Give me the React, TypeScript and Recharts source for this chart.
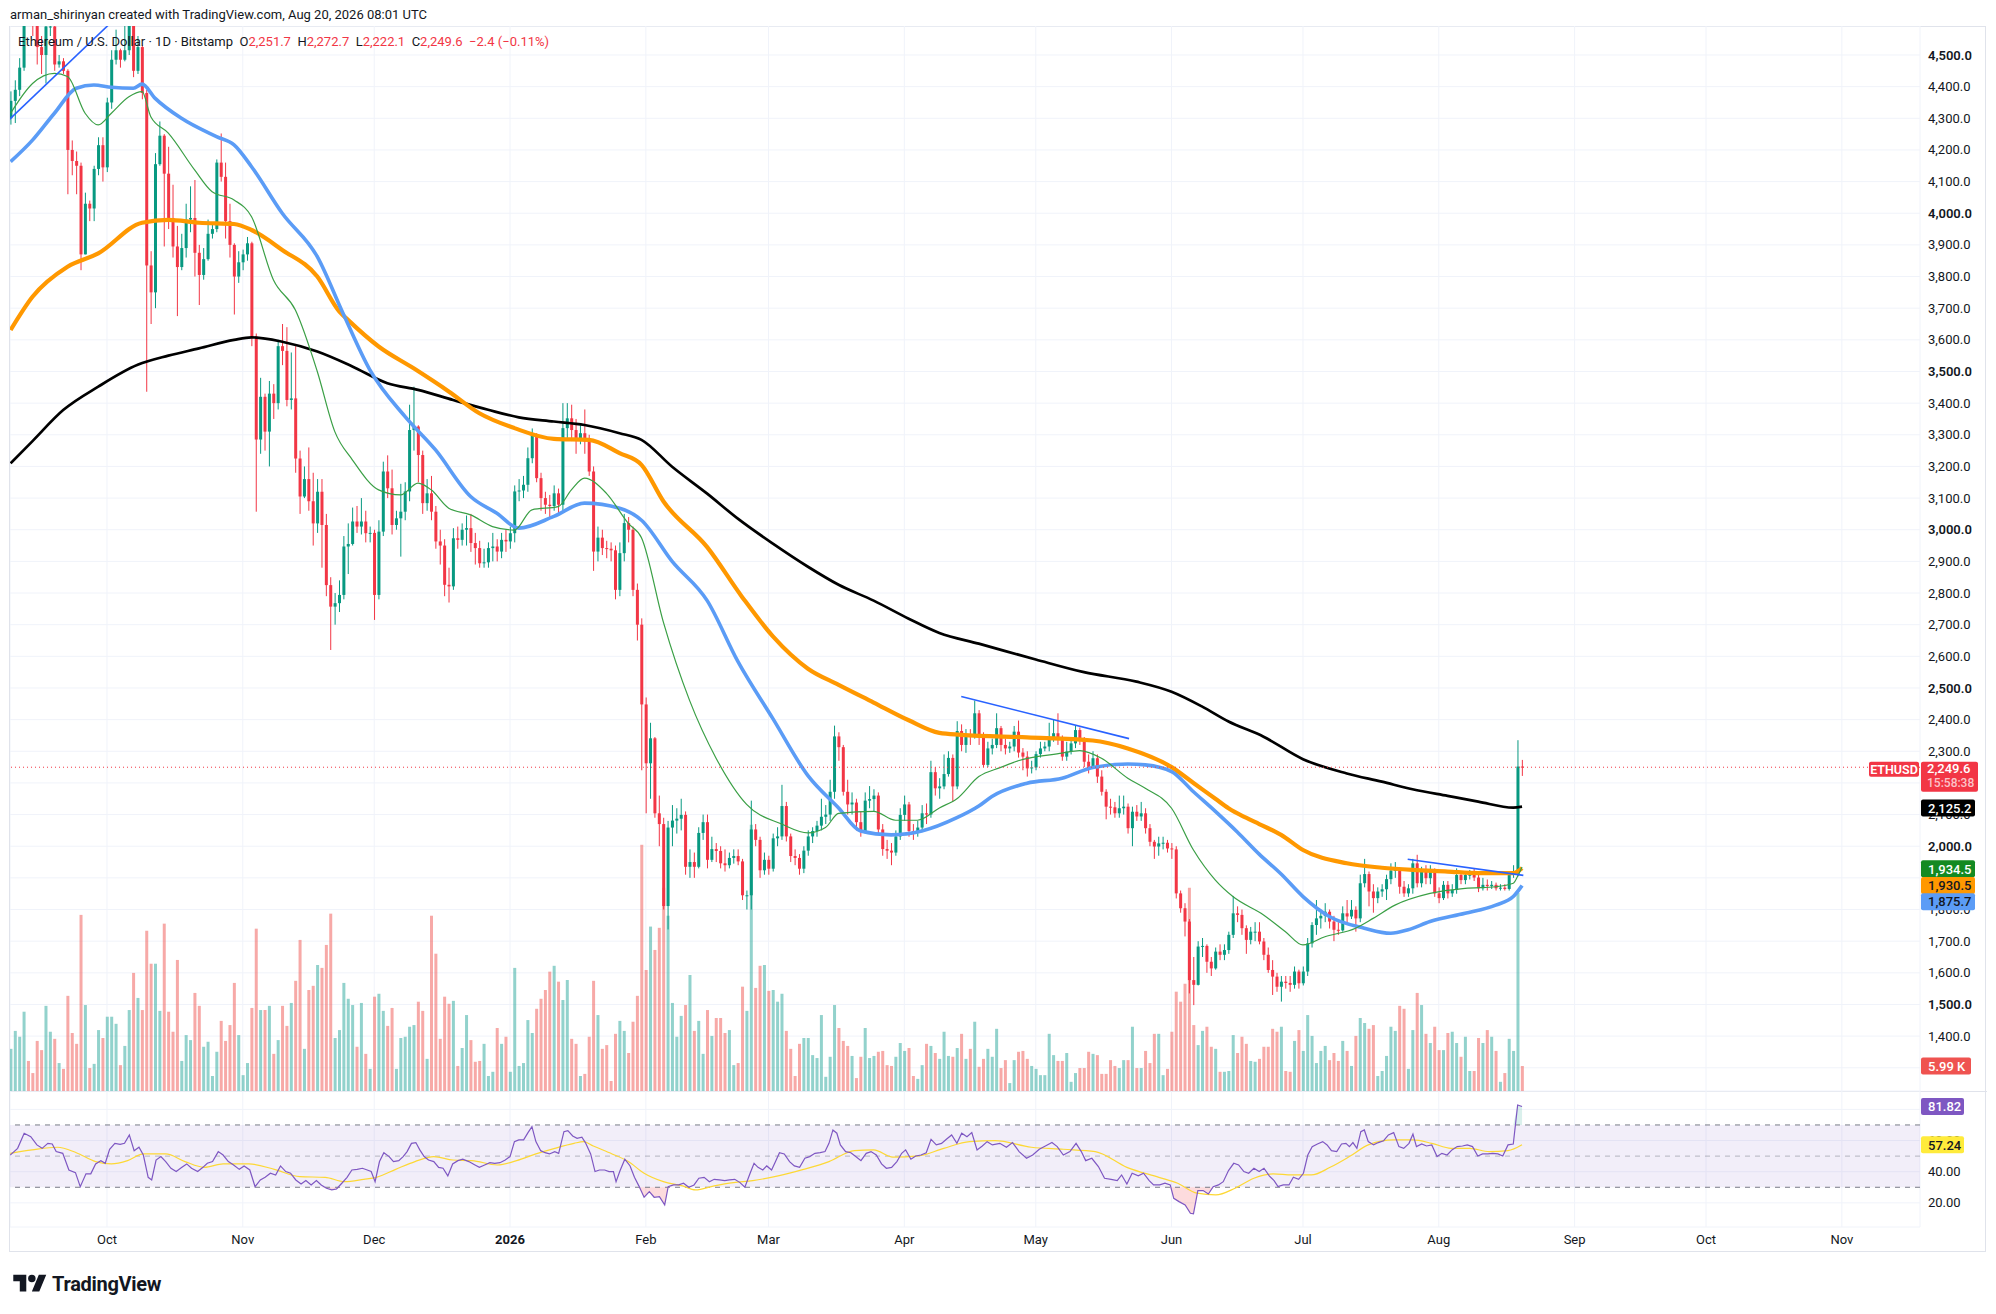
import React from "react";
import {
  ComposedChart, Bar, Line, Area, XAxis, YAxis, CartesianGrid,
  ReferenceLine, ReferenceArea, Cell,
} from "recharts";

const FONT = "Roboto, 'Noto Sans', Arial, sans-serif";
const INK = "#131722";
const GRID = "#f0f3fa";
const UP = "#089981";
const DOWN = "#f23645";
const VOL_UP = "rgba(38,166,154,0.5)";
const VOL_DOWN = "rgba(239,83,80,0.5)";

// day 0 = Sep 9, 2025 ... day 345 = Aug 20, 2026
const firstOpen = 4300;
const closes = [
  4355, 4390, 4460, 4715, 4670, 4605, 4525, 4500, 4590, 4590,
  4470, 4480, 4450, 4200, 4165, 4150, 3870, 4030, 4015, 4140,
  4215, 4145, 4350, 4485, 4515, 4485, 4515, 4690, 4450, 4525,
  4380, 3835, 3750, 4155, 4245, 4125, 3985, 3895, 3830, 3890,
  3980, 3985, 3875, 3805, 3855, 3935, 3950, 4160, 4115, 3975,
  3900, 3800, 3845, 3870, 3905, 3610, 3285, 3420, 3310, 3430,
  3400, 3580, 3565, 3410, 3415, 3225, 3105, 3160, 3090, 3020,
  3120, 3015, 2825, 2757, 2768, 2794, 2947, 2955, 3026, 3010,
  3026, 2989, 2990, 2794, 2994, 3184, 3131, 3015, 3036, 3057,
  3121, 3315, 3326, 3236, 3084, 3115, 3057, 2963, 2950, 2826,
  2821, 2973, 2968, 3000, 3005, 2958, 2942, 2894, 2897, 2942,
  2947, 2931, 2968, 2963, 2989, 3121, 3124, 3142, 3226, 3300,
  3163, 3100, 3079, 3075, 3115, 3079, 3321, 3352, 3315, 3284,
  3305, 3279, 3184, 2931, 2975, 2942, 2940, 2935, 2810, 2926,
  3021, 3000, 2810, 2700, 2448, 2262, 2341, 2104, 2070, 1811,
  2059, 2081, 2087, 2099, 1935, 1950, 1935, 2042, 2076, 1957,
  1991, 1985, 1946, 1940, 1963, 1969, 1952, 1845, 1845, 2053,
  2020, 1924, 1957, 1929, 2025, 2031, 2127, 2031, 1969, 1963,
  1929, 1986, 2031, 2048, 2065, 2093, 2100, 2172, 2347, 2313,
  2172, 2132, 2138, 2076, 2048, 2144, 2149, 2160, 2053, 1991,
  1986, 1980, 2031, 2099, 2132, 2048, 2042, 2059, 2104, 2100,
  2234, 2183, 2189, 2228, 2279, 2189, 2364, 2320, 2352, 2346,
  2420, 2346, 2257, 2309, 2320, 2373, 2320, 2309, 2315, 2362,
  2296, 2283, 2246, 2249, 2291, 2309, 2315, 2341, 2357, 2336,
  2283, 2299, 2325, 2367, 2336, 2267, 2251, 2278, 2220, 2172,
  2125, 2123, 2104, 2120, 2125, 2057, 2109, 2094, 2104, 2057,
  2014, 1999, 2009, 2011, 1993, 1990, 1851, 1804, 1762, 1577,
  1562, 1683, 1685, 1635, 1614, 1667, 1657, 1672, 1720, 1788,
  1783, 1741, 1704, 1730, 1730, 1699, 1657, 1609, 1588, 1556,
  1572, 1568, 1562, 1604, 1567, 1604, 1693, 1751, 1772, 1780,
  1793, 1762, 1736, 1734, 1788, 1778, 1799, 1772, 1883, 1912,
  1857, 1836, 1857, 1864, 1896, 1923, 1925, 1872, 1851, 1867,
  1946, 1883, 1920, 1899, 1920, 1851, 1836, 1878, 1851, 1862,
  1909, 1893, 1909, 1910, 1901, 1867, 1878, 1874, 1878, 1867,
  1869, 1865, 1909, 1914, 2251.7, 2249.6,
];
const highs = [
  4385, 4420, 4490, 4770, 4770, 4700, 4660, 4560, 4610, 4660,
  4600, 4500, 4490, 4455, 4230, 4195, 4160, 4065, 4040, 4150,
  4240, 4240, 4365, 4515, 4580, 4520, 4620, 4760, 4750, 4560,
  4530, 4390, 3880, 4190, 4290, 4250, 4210, 4090, 3960, 3935,
  4030, 4085, 4105, 3900, 3890, 3980, 3970, 4170, 4252, 4160,
  4030, 3905, 3880, 3885, 3925, 3910, 3620, 3480, 3430, 3470,
  3460, 3600, 3650, 3640, 3560, 3580, 3250, 3200, 3260, 3180,
  3160, 3160, 3050, 2850, 2800, 2840, 2980, 3020, 3070, 3075,
  3100, 3060, 3010, 3000, 3030, 3215, 3235, 3190, 3060, 3145,
  3150, 3395, 3452, 3330, 3250, 3160, 3170, 3075, 3000, 2970,
  2880, 3005, 3010, 3020, 3045, 3050, 2990, 2965, 2940, 2960,
  2990, 2970, 2990, 3000, 3010, 3140, 3160, 3170, 3260, 3320,
  3305, 3180, 3120, 3110, 3140, 3130, 3400, 3400, 3395, 3350,
  3330, 3380, 3300, 3200, 3010, 3000, 2965, 2960, 2950, 2960,
  3050, 3040, 3010, 2830, 2720, 2470, 2390, 2345, 2160, 2090,
  2080, 2130, 2120, 2150, 2110, 1990, 1980, 2060, 2100, 2100,
  2030, 2010, 2000, 1990, 1980, 1990, 1990, 1960, 1860, 2144,
  2070, 2030, 1980, 1970, 2040, 2060, 2194, 2140, 2040, 1990,
  1975, 2000, 2050, 2060, 2080, 2150, 2130, 2210, 2381, 2360,
  2320, 2210, 2170, 2150, 2110, 2170, 2190, 2180, 2170, 2070,
  2020, 2010, 2050, 2120, 2160, 2140, 2070, 2080, 2130, 2135,
  2270, 2250, 2215, 2290, 2300, 2290, 2395, 2385, 2370, 2370,
  2460, 2430, 2360, 2330, 2340, 2420, 2380, 2340, 2330, 2380,
  2397, 2310, 2300, 2270, 2300, 2330, 2330, 2390, 2400, 2420,
  2350, 2330, 2340, 2380, 2375, 2345, 2290, 2300, 2290, 2240,
  2180, 2150, 2140, 2160, 2160, 2135, 2125, 2130, 2140, 2120,
  2070, 2020, 2030, 2030, 2020, 2010, 2000, 1860, 1820, 1770,
  1650, 1700, 1710, 1690, 1650, 1680, 1690, 1690, 1730, 1843,
  1810, 1800, 1750, 1745, 1760, 1760, 1710, 1680, 1640, 1600,
  1590, 1590, 1590, 1620, 1610, 1620, 1710, 1760, 1830, 1800,
  1820, 1800, 1780, 1760, 1810, 1830, 1830, 1810, 1910, 1960,
  1920, 1880, 1870, 1880, 1910, 1946, 1950, 1930, 1890, 1880,
  1960, 1973, 1935, 1940, 1940, 1930, 1870, 1890, 1890, 1880,
  1930, 1920, 1920, 1925, 1930, 1915, 1900, 1895, 1890, 1885,
  1880, 1880, 1920, 1940, 2335, 2272.7,
];
const lows = [
  4280, 4285, 4370, 4450, 4640, 4560, 4470, 4440, 4410, 4560,
  4450, 4460, 4440, 4060, 4120, 4060, 3820, 3930, 3975, 3975,
  4120, 4100, 4130, 4330, 4470, 4460, 4480, 4500, 4430, 4440,
  4360, 3436, 3650, 3700, 4150, 3895, 3950, 3860, 3675, 3820,
  3860, 3940, 3800, 3710, 3790, 3850, 3920, 3940, 4100, 3920,
  3860, 3680, 3780, 3820, 3850, 3580, 3057, 3240, 3250, 3200,
  3350, 3380, 3520, 3390, 3380, 3180, 3050, 3100, 3060, 2950,
  2990, 2880, 2790, 2620, 2700, 2740, 2780, 2860, 2950, 2990,
  2985, 2960, 2960, 2715, 2780, 2980, 3100, 2985, 3000, 2915,
  3030, 3090, 3250, 3150, 3050, 3060, 3030, 2940, 2890, 2790,
  2770, 2810, 2940, 2950, 2950, 2930, 2890, 2880, 2880, 2880,
  2900, 2900, 2910, 2930, 2940, 2960, 3090, 3100, 3120, 3210,
  3150, 3060, 3050, 3040, 3060, 3050, 3060, 3290, 3280, 3240,
  3270, 3240, 3170, 2870, 2900, 2920, 2910, 2900, 2780, 2790,
  2900, 2960, 2790, 2650, 2240, 2104, 2150, 2090, 2000, 1800,
  1737, 2000, 2040, 2050, 1910, 1900, 1900, 1930, 2020, 1930,
  1950, 1950, 1930, 1920, 1930, 1945, 1940, 1830, 1800, 1800,
  2000, 1900, 1910, 1910, 1920, 2000, 2020, 2015, 1950, 1940,
  1910, 1915, 1970, 2010, 2030, 2050, 2070, 2080, 2150, 2270,
  2160, 2100, 2100, 2050, 2030, 2040, 2120, 2110, 2040, 1970,
  1960, 1940, 1970, 2020, 2080, 2030, 2020, 2030, 2050, 2070,
  2090, 2160, 2150, 2180, 2220, 2140, 2180, 2300, 2295, 2320,
  2340, 2320, 2250, 2250, 2290, 2310, 2300, 2290, 2295, 2300,
  2280, 2240, 2220, 2230, 2240, 2280, 2300, 2300, 2330, 2320,
  2270, 2270, 2290, 2310, 2320, 2250, 2230, 2245, 2200, 2160,
  2085, 2100, 2090, 2090, 2100, 2040, 2000, 2080, 2080, 2040,
  2000, 1960, 1970, 1990, 1980, 1960, 1835, 1790, 1715, 1535,
  1498, 1560, 1650, 1600, 1590, 1610, 1640, 1640, 1660, 1710,
  1760, 1720, 1660, 1690, 1700, 1690, 1640, 1600, 1530, 1540,
  1509, 1550, 1540, 1550, 1550, 1560, 1590, 1680, 1720, 1740,
  1760, 1740, 1700, 1720, 1730, 1760, 1770, 1730, 1760, 1870,
  1810, 1790, 1820, 1840, 1830, 1880, 1900, 1850, 1840, 1840,
  1850, 1870, 1870, 1880, 1880, 1840, 1820, 1830, 1835, 1840,
  1850, 1880, 1880, 1895, 1890, 1855, 1860, 1860, 1865, 1860,
  1860, 1860, 1860, 1900, 1905, 2222.1,
];
// volume in thousands
const volumes = [
  10.1, 14.4, 13.0, 19.0, 7.2, 4.3, 12.0, 9.8, 20.4, 14.2,
  12.5, 6.7, 5.3, 22.8, 13.9, 11.3, 42.2, 20.6, 5.5, 6.5,
  14.6, 12.7, 17.8, 17.8, 16.1, 6.2, 10.8, 19.4, 28.3, 22.3,
  19.4, 38.4, 30.5, 30.5, 19.2, 40.1, 19.0, 14.2, 31.4, 7.2,
  13.4, 12.2, 23.5, 20.4, 10.6, 11.8, 3.6, 9.4, 16.8, 12.0,
  15.8, 25.9, 13.4, 3.8, 6.7, 19.9, 38.9, 19.4, 19.4, 20.4,
  8.9, 12.2, 20.4, 15.6, 21.1, 26.4, 36.2, 10.1, 24.2, 25.2,
  30.2, 29.5, 35.0, 42.5, 12.7, 14.6, 25.9, 22.1, 20.6, 10.6,
  21.1, 8.9, 5.3, 22.6, 23.3, 19.2, 15.6, 19.9, 5.3, 12.7,
  13.0, 15.4, 15.8, 21.4, 19.2, 7.7, 42.0, 32.9, 12.5, 22.6,
  20.9, 21.6, 6.0, 10.3, 18.2, 12.2, 7.0, 7.2, 11.3, 3.6,
  4.6, 15.1, 11.3, 13.0, 4.6, 29.5, 6.0, 6.7, 17.0, 13.9,
  19.7, 22.1, 24.2, 28.6, 30.0, 26.2, 21.8, 26.6, 12.5, 11.3,
  3.6, 4.1, 13.0, 26.4, 18.2, 10.1, 11.0, 2.4, 13.7, 16.8,
  14.4, 9.1, 16.6, 22.8, 59.0, 29.0, 39.4, 33.8, 39.1, 48.7,
  42.0, 21.1, 13.0, 18.0, 20.6, 27.8, 14.4, 16.8, 8.9, 19.4,
  13.2, 17.5, 17.5, 13.9, 14.6, 6.2, 6.7, 25.0, 19.2, 63.8,
  24.7, 30.0, 30.2, 24.0, 24.2, 21.4, 23.3, 14.4, 10.1, 3.6,
  11.3, 12.7, 12.7, 8.6, 7.9, 18.2, 3.4, 8.2, 20.6, 15.1,
  12.0, 10.8, 8.4, 3.1, 8.2, 15.1, 7.9, 8.4, 9.4, 9.6,
  6.2, 6.0, 8.2, 11.5, 9.6, 10.3, 3.6, 2.9, 6.2, 11.3,
  10.8, 9.1, 7.7, 14.2, 8.4, 8.2, 10.3, 13.7, 7.7, 10.1,
  16.6, 5.8, 7.7, 10.1, 8.2, 14.9, 5.5, 7.4, 1.9, 7.4,
  9.4, 9.6, 7.7, 6.0, 5.3, 3.8, 3.8, 13.7, 8.6, 7.2,
  7.2, 9.1, 2.2, 4.3, 5.5, 5.5, 9.4, 8.9, 8.6, 4.1,
  4.1, 7.4, 6.0, 5.5, 7.4, 7.4, 15.4, 5.5, 5.5, 9.6,
  6.7, 13.7, 13.7, 3.8, 5.3, 14.2, 23.8, 21.4, 25.7, 48.7,
  15.8, 11.0, 14.4, 15.4, 10.6, 10.1, 4.6, 4.6, 4.8, 13.4,
  9.1, 13.0, 11.3, 7.2, 7.0, 7.7, 10.6, 10.6, 14.9, 14.2,
  15.4, 4.8, 4.6, 12.0, 14.6, 9.6, 18.2, 13.2, 6.7, 9.6,
  10.8, 7.4, 9.1, 7.2, 12.0, 9.6, 6.0, 13.2, 17.5, 16.3,
  14.9, 15.8, 3.6, 4.8, 8.4, 15.4, 14.4, 20.4, 19.7, 5.3,
  14.6, 23.5, 20.6, 13.7, 11.5, 15.4, 9.8, 9.8, 13.9, 14.2,
  11.5, 8.2, 13.0, 4.8, 4.8, 12.7, 11.5, 14.6, 13.0, 9.6,
  2.2, 4.3, 12.5, 9.6, 47.5, 5.99,
];

// moving averages: [day, value]
const sma20 = [
  [0, 4316], [5, 4410], [10, 4442], [13, 4432], [17, 4316], [20, 4279], [23, 4316],
  [27, 4368], [30, 4384], [32, 4305], [36, 4253], [42, 4137], [46, 4068], [51, 4042],
  [55, 3989], [60, 3789], [65, 3694], [70, 3500], [74, 3310], [78, 3221], [84, 3126],
  [89, 3110], [93, 3147], [96, 3126], [100, 3068], [105, 3047], [110, 3010], [115, 2999],
  [119, 3063], [125, 3073], [128, 3126], [131, 3163], [136, 3115], [141, 3020], [144, 2975],
  [149, 2708], [155, 2460], [161, 2279], [168, 2132], [176, 2070], [182, 2042], [186, 2059],
  [189, 2104], [197, 2110], [202, 2082], [207, 2082], [212, 2121], [216, 2150], [221, 2220],
  [226, 2249], [230, 2270], [240, 2294], [244, 2302], [249, 2278], [255, 2215], [259, 2183],
  [265, 2120], [270, 1988], [275, 1893], [279, 1841], [286, 1783], [291, 1730], [295, 1688],
  [300, 1714], [307, 1741], [311, 1772], [316, 1814], [324, 1851], [332, 1867], [339, 1872],
  [343, 1883], [344, 1905], [345, 1934.5],
];
const sma50 = [
  [0, 4163], [5, 4231], [10, 4316], [15, 4395], [19, 4405], [23, 4398], [28, 4395],
  [30, 4408], [33, 4363], [39, 4300], [47, 4242], [51, 4216], [55, 4147], [62, 4000],
  [70, 3863], [76, 3680], [82, 3505], [90, 3358], [97, 3252], [105, 3105], [111, 3052],
  [116, 3005], [124, 3042], [131, 3084], [139, 3068], [144, 3030], [151, 2900], [159, 2776],
  [166, 2584], [174, 2403], [182, 2223], [189, 2121], [194, 2048], [201, 2036], [208, 2048],
  [216, 2090], [221, 2127], [224, 2157], [232, 2199], [240, 2215], [247, 2249], [255, 2260],
  [259, 2257], [265, 2236], [270, 2172], [275, 2110], [280, 2045], [285, 1975], [290, 1912],
  [295, 1841], [301, 1778], [309, 1741], [315, 1725], [319, 1736], [324, 1762], [332, 1788],
  [339, 1814], [343, 1841], [345, 1875.7],
];
const sma100 = [
  [0, 3631], [5, 3736], [13, 3831], [20, 3873], [30, 3970], [36, 3979], [43, 3970],
  [51, 3966], [55, 3947], [62, 3884], [70, 3800], [75, 3690], [77, 3663], [84, 3579],
  [92, 3510], [100, 3437], [107, 3368], [115, 3321], [124, 3287], [132, 3284], [139, 3242],
  [144, 3205], [149, 3090], [159, 2945], [167, 2787], [174, 2663], [182, 2561], [189, 2510],
  [197, 2454], [205, 2398], [212, 2358], [217, 2352], [232, 2344], [247, 2334], [255, 2309],
  [265, 2250], [270, 2200], [275, 2150], [278, 2120], [282, 2090], [285, 2070], [290, 2036],
  [295, 1988], [305, 1946], [313, 1932], [320, 1925], [328, 1920], [335, 1915], [343, 1915],
  [345, 1930.5],
];
const sma200 = [
  [0, 3210], [5, 3280], [12, 3378], [20, 3452], [29, 3521], [36, 3550], [43, 3573],
  [51, 3600], [55, 3608], [62, 3594], [70, 3563], [78, 3516], [86, 3463], [93, 3442],
  [101, 3410], [109, 3379], [116, 3355], [124, 3342], [131, 3331], [139, 3305], [144, 3284],
  [151, 3199], [159, 3114], [166, 3035], [174, 2956], [182, 2883], [189, 2826], [197, 2776],
  [205, 2719], [212, 2674], [221, 2640], [234, 2590], [245, 2550], [257, 2520], [265, 2488],
  [272, 2441], [278, 2394], [286, 2346], [295, 2275], [305, 2230], [313, 2204], [320, 2180],
  [328, 2159], [335, 2141], [343, 2122], [345, 2125.2],
];

// RSI (14) and its moving average: [day, value]
const rsiPts = [
  [-0.1, 50.7], [1.6, 55], [3.1, 64.7], [4.6, 62.5], [6, 57.2], [7.2, 55], [8.5, 58.2], [9.5, 57.8],
  [10.4, 52.9], [11.9, 51.8], [13.3, 41.1], [14.8, 39.4], [15.9, 30.4], [17.2, 38.6], [18.3, 38.6],
  [19.4, 45], [20.6, 47.1], [21.6, 45.4], [22.6, 54.4], [23.8, 58.2], [25, 57.6], [26, 58.2],
  [27.1, 63.6], [28.2, 53.5], [29.3, 55.7], [30.3, 50.7], [31.4, 36.4], [32.2, 34.7], [33.2, 47.5],
  [34.3, 49.7], [35.4, 46.5], [36.6, 42.2], [37.8, 40.1], [39.1, 42.8], [40.2, 45], [41.3, 42.2],
  [42.7, 40.1], [43.9, 42.8], [44.9, 45.4], [46.1, 46.5], [47.4, 52.9], [48.5, 50.7], [49.7, 46.5],
  [50.9, 44.3], [52.2, 41.5], [53.3, 43.7], [54.6, 41.1], [55.8, 30.4], [57, 34.7], [58.1, 36.4],
  [59.3, 39], [60.5, 37.9], [61.6, 43.7], [62.8, 40.1], [63.9, 39], [65.1, 34.7], [66.3, 32.1],
  [67.4, 34.3], [68.6, 31.5], [69.8, 34.3], [70.9, 31.5], [72.1, 29.4], [73.3, 28.3], [74.4, 28.9],
  [75.6, 32.6], [76.8, 36.4], [77.9, 41.1], [79.1, 41.5], [80.3, 42.2], [81.4, 41.1], [82.3, 40.1],
  [83.2, 33.6], [84.2, 46.5], [85.2, 52.2], [86.4, 49.7], [87.4, 46.5], [88.6, 47.1], [89.6, 49.7],
  [90.5, 52.9], [91.5, 58.2], [92.5, 58.7], [93.4, 54], [94.4, 49.7], [95.4, 47.5], [96.6, 46.5],
  [97.7, 42.8], [98.7, 42.2], [99.8, 37.3], [100.9, 45], [102.1, 47.1], [103.2, 48], [104.6, 46.5],
  [106, 44.3], [107, 42.8], [108.2, 44.3], [109.4, 45.8], [110.5, 45.4], [111.7, 45.8], [112.9, 47.5],
  [114, 49.7], [115, 59.3], [116, 60.4], [117.1, 60.4], [118.1, 65.1], [119, 68.9], [119.9, 59.3],
  [121, 53.5], [122, 52.2], [123, 51.4], [124.2, 52.9], [125.1, 51.8], [126.3, 65.7], [127.2, 66.4],
  [128.3, 62.9], [129.3, 61.4], [130.4, 62.1], [131.2, 58.7], [132.4, 51.4], [133.4, 40.1],
  [134.4, 41.1], [135.6, 41.1], [136.6, 40.1], [137.6, 40.1], [138.2, 33.6], [139.1, 40.6],
  [140.2, 48], [141.4, 43.7], [142.4, 36.4], [143.4, 30.9], [144.6, 23.6], [145.8, 27.2],
  [146.9, 23.6], [148.1, 24], [149.3, 18.7], [150.1, 30.4], [151.3, 31.5], [152.5, 31.5],
  [153.6, 32.6], [154.8, 30], [156, 31.5], [157.1, 35.8], [158.3, 36.4], [159.5, 33.6],
  [160.6, 35.1], [161.8, 34.7], [163, 34.3], [164.1, 34.7], [165.3, 35.1], [166.5, 33], [167.6, 30],
  [168.8, 39], [169.7, 45.4], [170.6, 42.8], [171.7, 41.1], [172.6, 43.7], [173.7, 41.1],
  [174.6, 46.5], [175.5, 52.2], [176.6, 51.4], [177.8, 46.5], [178.9, 43.7], [180.1, 42.8],
  [181.3, 48.6], [182.4, 49.7], [183.6, 51.8], [184.8, 52.2], [185.9, 52.9], [186.8, 58.2],
  [187.7, 66.8], [188.6, 64.7], [189.4, 57.2], [190.6, 52.9], [191.8, 52.2], [192.9, 49.7],
  [194.1, 47.1], [195.3, 51.8], [196.4, 52.9], [197.6, 50.7], [198.8, 45], [199.9, 42.2],
  [201.1, 42.8], [202.3, 46.5], [203.4, 51.8], [204.3, 54], [205.5, 48], [206.6, 50.1],
  [207.8, 50.7], [209, 52.2], [210.1, 60.8], [211.3, 57.2], [212.5, 58.2], [213.6, 60.8],
  [214.8, 63.6], [216, 58.2], [217.1, 64.7], [218.3, 62.5], [219.4, 65.1], [220.6, 54],
  [221.8, 56.5], [222.9, 59.3], [224.1, 57.2], [225.8, 58.2], [227.3, 55.7], [228.7, 58.7],
  [230.2, 52.9], [231.9, 48.6], [233.3, 50.7], [234.8, 54.4], [236.2, 56.5], [237.7, 58.7],
  [238.9, 56.1], [240.3, 50.7], [241.8, 52.9], [243.2, 58.2], [244.4, 52.9], [245.4, 47.1],
  [246.8, 48.6], [248.3, 43.3], [249.7, 35.8], [251.2, 35.1], [252.6, 34.3], [253.6, 37.9],
  [254.8, 32.1], [256, 39], [257.4, 37.3], [258.6, 39], [259.9, 34.3], [260.9, 31.5],
  [262.3, 31.5], [263.5, 32.6], [264.7, 31.5], [265.5, 22.9], [266.7, 20.8], [268.1, 18.7],
  [269.3, 13.3], [270, 12.9], [271, 27.9], [272.2, 27.9], [273.4, 25.7], [274.5, 30.4],
  [275.7, 31.5], [276.8, 33.6], [278, 40.7], [279.2, 45.4], [280.3, 44.3], [281.5, 40.1],
  [282.6, 39], [283.8, 42.2], [285, 40.1], [286.1, 42.2], [287.3, 37.3], [288.4, 34.3],
  [289.3, 30.4], [290.5, 31.5], [291.8, 31.5], [292.8, 36.4], [294, 35.1], [295.1, 39],
  [296.1, 50.7], [297.1, 56.1], [298.3, 57.8], [299.5, 59.3], [300.5, 57.2], [301.5, 53.5],
  [302.7, 52.9], [303.8, 57.8], [304.8, 58.2], [305.6, 56.1], [306.4, 58.7], [307.3, 55],
  [308.2, 65.7], [309, 66.8], [309.9, 59.3], [311.1, 57.2], [312.2, 58.7], [313.4, 59.9],
  [314.5, 63.6], [315.7, 65.1], [316.9, 56.1], [318, 55], [319.2, 58.2], [320.1, 64.2],
  [320.9, 56.1], [322.1, 57.8], [323.2, 56.5], [324.4, 57.2], [325.6, 49.7], [326.7, 51.8],
  [327.9, 50.7], [329, 54], [330.2, 56.1], [331.4, 56.5], [332.5, 57.2], [333.7, 56.1],
  [334.9, 50.1], [336, 51.4], [337.2, 51.4], [338.3, 51.8], [339.5, 51.4], [340.6, 50.1],
  [341.8, 57.2], [343, 57.8], [344, 82.8], [345, 81.82],
];
const rsiMaPts = [
  [-0.1, 51.8], [4.9, 54], [10.7, 55.7], [15, 52.2], [19.4, 46.5], [23, 45], [26.7, 47.1],
  [30.3, 51.4], [35.4, 51.4], [39.8, 46.5], [44.2, 42.8], [48.5, 45], [54.4, 45], [60.2, 41.5],
  [66, 36.8], [71.8, 36.4], [76.2, 33.6], [80.6, 35.1], [83.5, 36.4], [87.9, 41.5], [92.3, 46.5],
  [96.6, 49.7], [101, 47.5], [105.3, 47.1], [111.1, 44.3], [115.5, 47.1], [119.9, 51.4],
  [124.2, 55], [128.6, 58.2], [130.8, 59.3], [133, 56.5], [137.3, 51.4], [141, 46.5], [144.6, 39],
  [149, 33.6], [153.4, 30.9], [156.3, 28.3], [160.6, 30.9], [165, 33], [169.4, 34.3],
  [175.2, 37.3], [181, 41.5], [186.8, 46.5], [192.6, 53.5], [197, 54], [201.4, 49.3],
  [207.2, 50.1], [213, 55], [218.9, 59.3], [224.7, 59.9], [233, 55.7], [240.3, 54.4],
  [247.6, 52.9], [254.8, 42.8], [262.1, 36.4], [266.4, 32.6], [270.8, 26.2], [275.1, 25.1],
  [279.5, 29.4], [283.8, 35.8], [288.2, 38.6], [292.5, 37.9], [296.9, 37.9], [301.2, 42.8],
  [305.6, 49.7], [309.9, 57.2], [315.7, 60.4], [320.1, 60.4], [324.4, 58.2], [328.8, 55],
  [333.1, 55], [337.5, 52.9], [341.8, 53.5], [345, 57.24],
];

const monthTicks = [22, 53, 83, 114, 145, 173, 204, 234, 265, 295, 326, 357, 387, 418];
const monthLabels = ["Oct", "Nov", "Dec", "2026", "Feb", "Mar", "Apr", "May", "Jun", "Jul", "Aug", "Sep", "Oct", "Nov"];
const priceTicks = [
  1300, 1400, 1500, 1600, 1700, 1800, 1900, 2000, 2100, 2200, 2300, 2400, 2500, 2600, 2700, 2800, 2900,
  3000, 3100, 3200, 3300, 3400, 3500, 3600, 3700, 3800, 3900, 4000, 4100, 4200, 4300, 4400, 4500,
];
const rsiTicks = [20, 40, 60, 80];

const X_DOMAIN: [number, number] = [-0.14, 435.84];
const P_DOMAIN: [number, number] = [1226.6, 4591.6];
const V_DOMAIN: [number, number] = [0, 255.2];
const R_DOMAIN: [number, number] = [4.5, 91.8];
const NO_MARGIN = { top: 0, right: 0, bottom: 0, left: 0 };
const AXIS_W = 67;

const toMap = (pts: number[][]) => new Map(pts.map(([d, v]) => [d, v]));
const m20 = toMap(sma20), m50 = toMap(sma50), m100 = toMap(sma100), m200 = toMap(sma200);

const rows = closes.map((c, i) => {
  const o = i === 0 ? firstOpen : closes[i - 1];
  return {
    d: i, o, c,
    h: Math.max(highs[i], o, c),
    l: Math.min(lows[i], o, c),
    v: volumes[i],
    s20: m20.get(i), s50: m50.get(i), s100: m100.get(i), s200: m200.get(i),
  };
});

const rsiRows = [
  ...rsiPts.map(([x, v]) => ({ x, rsi: v } as any)),
  ...rsiMaPts.map(([x, v]) => ({ x, ma: v } as any)),
].sort((a, b) => a.x - b.x);

const fmtPrice = (v: number) => v.toLocaleString("en-US", { minimumFractionDigits: 1, maximumFractionDigits: 1 });

const Candle = (props: any) => {
  const { x, y, width, height, payload } = props;
  if (!payload || x == null) return null;
  const { o, h, l, c } = payload;
  const top = Math.min(y, y + height);
  const bot = Math.max(y, y + height);
  const k = h === l ? 0 : (bot - top) / (h - l);
  const yo = top + (h - o) * k;
  const yc = top + (h - c) * k;
  const color = c >= o ? UP : DOWN;
  const cx = x + width / 2;
  return (
    <g>
      <line x1={cx} x2={cx} y1={top} y2={bot} stroke={color} strokeWidth={1} />
      <rect x={x} y={Math.min(yo, yc)} width={width} height={Math.max(1, Math.abs(yc - yo))} fill={color} />
    </g>
  );
};

const PriceTick = ({ x, y, payload }: any) => (
  <text x={x} y={y} dy="0.35em" fontSize={13} fill={INK} fontFamily={FONT}
    fontWeight={payload.value % 500 === 0 ? 600 : 400}>
    {fmtPrice(payload.value)}
  </text>
);

const RsiTick = ({ x, y, payload }: any) => (
  <text x={x} y={y} dy="0.35em" fontSize={13} fill={INK} fontFamily={FONT}>
    {payload.value.toFixed(2)}
  </text>
);

const TimeTick = ({ x, y, payload }: any) => {
  const label = monthLabels[monthTicks.indexOf(payload.value)];
  return (
    <text x={x} y={y} dy="0.71em" textAnchor="middle" fontSize={13} fill={INK} fontFamily={FONT}
      fontWeight={label === "2026" ? 700 : 400}>
      {label}
    </text>
  );
};

const AxisTag = ({ viewBox, text, bg, color, dy = 0, w = 54 }: any) => {
  if (!viewBox) return null;
  const x = viewBox.x + viewBox.width + 1;
  const cy = viewBox.y + dy;
  return (
    <g>
      <rect x={x} y={cy - 8.5} width={w} height={17} rx={2} fill={bg} />
      <text x={x + 7} y={cy} dy="0.36em" fontSize={13} fontWeight={500} fill={color} fontFamily={FONT}>{text}</text>
    </g>
  );
};

const LastPriceTag = ({ viewBox }: any) => {
  if (!viewBox) return null;
  const right = viewBox.x + viewBox.width;
  const cy = viewBox.y;
  return (
    <g fontFamily={FONT}>
      <rect x={right - 51} y={cy - 5.5} width={50} height={15} rx={2} fill={DOWN} />
      <text x={right - 26} y={cy + 2} dy="0.36em" textAnchor="middle" fontSize={12.5} fontWeight={600} fill="#fff">ETHUSD</text>
      <rect x={right + 1} y={cy - 5.6} width={57} height={30} rx={2} fill={DOWN} />
      <text x={right + 7} y={cy + 1} dy="0.36em" fontSize={13} fontWeight={500} fill="#fff">2,249.6</text>
      <text x={right + 7} y={cy + 15} dy="0.36em" fontSize={12} fontWeight={500} fill="rgba(255,255,255,0.72)">15:58:38</text>
    </g>
  );
};

const maLine = (key: string, color: string, width: number) => (
  <Line key={key} dataKey={key} type="monotone" stroke={color} strokeWidth={width} dot={false}
    activeDot={false} connectNulls isAnimationActive={false} />
);

function PricePane() {
  return (
    <ComposedChart width={1977} height={1065} data={rows} margin={NO_MARGIN}>
      <CartesianGrid stroke={GRID} />
      <XAxis dataKey="d" type="number" domain={X_DOMAIN} allowDataOverflow ticks={monthTicks} hide />
      <XAxis xAxisId="v" dataKey="d" type="number" domain={X_DOMAIN} allowDataOverflow hide />
      <YAxis orientation="right" width={AXIS_W} domain={P_DOMAIN} allowDataOverflow ticks={priceTicks}
        tick={<PriceTick />} axisLine={false} tickLine={false} interval={0} />
      <YAxis yAxisId="vol" domain={V_DOMAIN} allowDataOverflow hide />
      <Bar xAxisId="v" yAxisId="vol" dataKey="v" barSize={3} isAnimationActive={false}>
        {rows.map((r) => <Cell key={r.d} fill={r.c >= r.o ? VOL_UP : VOL_DOWN} />)}
      </Bar>
      <Bar dataKey={(r: any) => [r.l, r.h]} barSize={3} shape={(p: any) => <Candle {...p} />} isAnimationActive={false} />
      {maLine("s200", "#000000", 2.7)}
      {maLine("s100", "#ff9800", 4.2)}
      {maLine("s50", "#5b9cf6", 3.6)}
      {maLine("s20", "#3a9f45", 1.2)}
      <ReferenceLine segment={[{ x: -1, y: 4287 }, { x: 25, y: 4630 }]} stroke="#2962ff" strokeWidth={1.6} ifOverflow="hidden" />
      <ReferenceLine segment={[{ x: 217, y: 2473 }, { x: 255.3, y: 2340 }]} stroke="#2962ff" strokeWidth={1.6} />
      <ReferenceLine segment={[{ x: 318.9, y: 1959 }, { x: 345.3, y: 1908 }]} stroke="#2962ff" strokeWidth={1.6} />
      <ReferenceLine y={2249.6} stroke={DOWN} strokeDasharray="1 3" />
    </ComposedChart>
  );
}

// value tags drawn in a second, transparent chart with the same scales so they sit above the axis labels
function PriceTags() {
  return (
    <ComposedChart width={1977} height={1065} data={rows} margin={{ ...NO_MARGIN, right: AXIS_W }}>
      <XAxis dataKey="d" type="number" domain={X_DOMAIN} allowDataOverflow hide />
      <YAxis domain={P_DOMAIN} allowDataOverflow hide />
      <YAxis yAxisId="vol" domain={V_DOMAIN} allowDataOverflow hide />
      <ReferenceLine y={2249.6} stroke="transparent" label={(p: any) => <LastPriceTag viewBox={p.viewBox} />} />
      <ReferenceLine y={2125.2} stroke="transparent" label={(p: any) => <AxisTag viewBox={p.viewBox} text="2,125.2" bg="#000000" color="#ffffff" dy={1.4} />} />
      <ReferenceLine y={1934.5} stroke="transparent" label={(p: any) => <AxisTag viewBox={p.viewBox} text="1,934.5" bg="#148a22" color="#ffffff" dy={1.9} />} />
      <ReferenceLine y={1930.5} stroke="transparent" label={(p: any) => <AxisTag viewBox={p.viewBox} text="1,930.5" bg="#ff9800" color={INK} dy={17.3} />} />
      <ReferenceLine y={1875.7} stroke="transparent" label={(p: any) => <AxisTag viewBox={p.viewBox} text="1,875.7" bg="#5b9cf6" color={INK} dy={16.1} />} />
      <ReferenceLine yAxisId="vol" y={5.99} stroke="transparent" label={(p: any) => <AxisTag viewBox={p.viewBox} text="5.99 K" bg="#ef5350" color="#ffffff" w={50} />} />
    </ComposedChart>
  );
}

function RsiPane() {
  return (
    <ComposedChart width={1977} height={162} data={rsiRows} margin={NO_MARGIN}>
      <CartesianGrid stroke={GRID} />
      <XAxis dataKey="x" type="number" domain={X_DOMAIN} allowDataOverflow ticks={monthTicks} tick={<TimeTick />}
        height={26} axisLine={false} tickLine={false} interval={0} />
      <YAxis orientation="right" width={AXIS_W} domain={R_DOMAIN} allowDataOverflow ticks={rsiTicks}
        tick={<RsiTick />} axisLine={false} tickLine={false} interval={0} />
      <ReferenceArea y1={30} y2={70} fill="#7e57c2" fillOpacity={0.1} stroke="none" />
      <ReferenceLine y={70} stroke="#787b86" strokeDasharray="5 5" />
      <ReferenceLine y={50} stroke="#787b86" strokeOpacity={0.5} strokeDasharray="5 5" />
      <ReferenceLine y={30} stroke="#787b86" strokeDasharray="5 5" />
      <Area dataKey={(r: any) => (r.rsi == null ? null : [Math.min(r.rsi, 30), 30])} type="linear"
        stroke="none" fill="rgba(242,54,69,0.3)" connectNulls isAnimationActive={false} activeDot={false} />
      <Area dataKey={(r: any) => (r.rsi == null ? null : [70, Math.max(r.rsi, 70)])} type="linear"
        stroke="none" fill="rgba(8,153,129,0.25)" connectNulls isAnimationActive={false} activeDot={false} />
      <Line dataKey="ma" type="monotone" stroke="#fdd835" strokeWidth={1.2} dot={false} activeDot={false} connectNulls isAnimationActive={false} />
      <Line dataKey="rsi" type="linear" stroke="#7e57c2" strokeWidth={1.2} dot={false} activeDot={false} connectNulls isAnimationActive={false} />
    </ComposedChart>
  );
}

function RsiTags() {
  return (
    <ComposedChart width={1977} height={162} data={rsiRows} margin={{ ...NO_MARGIN, right: AXIS_W, bottom: 26 }}>
      <XAxis dataKey="x" type="number" domain={X_DOMAIN} allowDataOverflow hide />
      <YAxis domain={R_DOMAIN} allowDataOverflow hide />
      <ReferenceLine y={81.82} stroke="transparent" label={(p: any) => <AxisTag viewBox={p.viewBox} text="81.82" bg="#7e57c2" color="#ffffff" w={43} />} />
      <ReferenceLine y={57.24} stroke="transparent" label={(p: any) => <AxisTag viewBox={p.viewBox} text="57.24" bg="#ffeb3b" color={INK} w={43} />} />
    </ComposedChart>
  );
}

export default function App() {
  const red = { color: DOWN };
  const layer = (top: number) => ({ position: "absolute" as const, left: 10, top });
  return (
    <div style={{ position: "absolute", left: 0, top: 0, width: 1996, height: 1314, background: "#fff", fontFamily: FONT, color: INK, overflow: "hidden" }}>
      <div style={{ position: "absolute", left: 10, top: 6, fontSize: 13, lineHeight: "18px" }}>
        arman_shirinyan created with TradingView.com, Aug 20, 2026 08:01 UTC
      </div>
      <div style={{ position: "absolute", left: 9, top: 26, width: 1977, height: 1226, border: "1px solid #e0e3eb", boxSizing: "border-box" }} />
      <div style={layer(26)}><PricePane /></div>
      <div style={layer(26)}><PriceTags /></div>
      <div style={{ position: "absolute", left: 9, top: 1091, width: 1978, height: 1, background: "#e0e3eb" }} />
      <div style={layer(1091)}><RsiPane /></div>
      <div style={layer(1091)}><RsiTags /></div>
      <div style={{ position: "absolute", left: 18, top: 33, fontSize: 13, lineHeight: "18px", whiteSpace: "pre" }}>
        {"Ethereum / U.S. Dollar · 1D · Bitstamp  O"}<span style={red}>2,251.7</span>
        {"  H"}<span style={red}>2,272.7</span>
        {"  L"}<span style={red}>2,222.1</span>
        {"  C"}<span style={red}>2,249.6</span>
        <span style={red}>{"  −2.4 (−0.11%)"}</span>
      </div>
      <div style={{ position: "absolute", left: 13, top: 1271, display: "flex", alignItems: "center", gap: 5 }}>
        <svg width="34" height="26" viewBox="0 0 36 28">
          <path d="M14 22H7V11H0V4h14v18zM28 22h-8l7.5-18h8L28 22z" fill={INK} />
          <circle cx="20" cy="8" r="4" fill={INK} />
        </svg>
        <span style={{ fontSize: 20, fontWeight: 700, letterSpacing: -0.3 }}>TradingView</span>
      </div>
    </div>
  );
}
